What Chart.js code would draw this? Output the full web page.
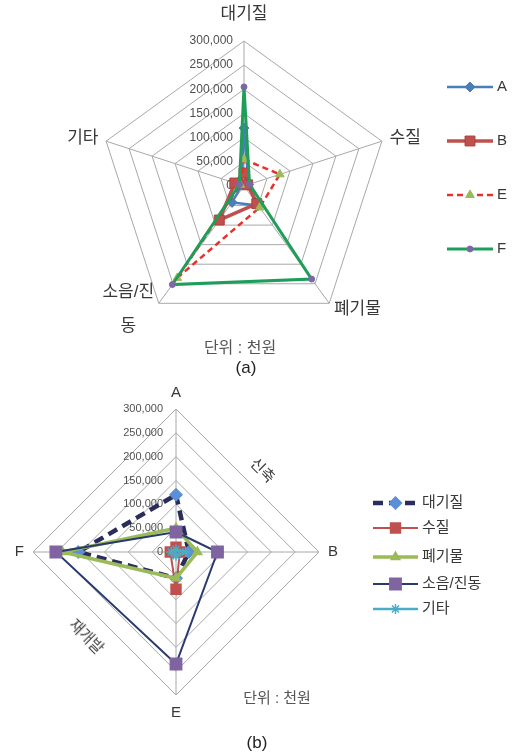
<!DOCTYPE html>
<html>
<head>
<meta charset="utf-8">
<script src="https://cdn.jsdelivr.net/npm/chart.js@4.4.0/dist/chart.umd.min.js"></script>
<style>
  body { margin:0; background:#fff; width:515px; height:752px; position:relative; overflow:hidden;
         font-family:'Liberation Sans','Noto Sans CJK KR',sans-serif; color:#404040; }
  canvas { position:absolute; left:0; }
  #chartA { top:0; }
  #chartB { top:375px; }
  .txt { position:absolute; white-space:nowrap; transform:translate(-50%,-50%); line-height:1; }
</style>
</head>
<body>
<canvas id="chartA" width="515" height="375"></canvas>
<canvas id="chartB" width="515" height="377"></canvas>

<div class="txt" style="left:240px;top:348px;font-size:16px;color:#555">단위 : 천원</div>
<div class="txt" style="left:246px;top:367px;font-size:17px;color:#222">(a)</div>
<div class="txt" style="left:263px;top:470px;font-size:15px;transform:translate(-50%,-50%) rotate(45deg)">신축</div>
<div class="txt" style="left:87px;top:636px;font-size:15px;transform:translate(-50%,-50%) rotate(45deg)">재개발</div>
<div class="txt" style="left:277px;top:697px;font-size:15px;color:#555">단위 : 천원</div>
<div class="txt" style="left:257px;top:742px;font-size:17px;color:#222">(b)</div>

<script>
// 단위: 천원
var sites = ['A', 'B', 'E', 'F'];
var impacts = ['대기질', '수질', '폐기물', '소음/진동', '기타'];

// one array per impact, values for A, B, E, F
var airQuality   = [120000, 27000, 55000, 205000];
var waterQuality = [10000, 8000, 78000, 12000];
var waste        = [50000, 45000, 55000, 238000];
var noise        = [42000, 87000, 235000, 252000];
var others       = [5000, 20000, 8000, 10000];

var axisMax = 300000;
var axisStep = 50000;

var impactValues = [airQuality, waterQuality, waste, noise, others];

var FONT = "'Liberation Sans','Noto Sans CJK KR',sans-serif";

// tick labels (left of the vertical axis) and category labels
var radarText = {
    id: 'radarText',
    beforeDatasetsDraw: function(chart, args, opts) {
        var scale = chart.scales.r;
        var ctx = chart.ctx;
        ctx.save();
        ctx.font = opts.tickSize + 'px ' + FONT;
        ctx.fillStyle = '#505050';
        ctx.textAlign = 'right';
        ctx.textBaseline = 'middle';
        scale.ticks.forEach(function(t) {
            var d = scale.getDistanceFromCenterForValue(t.value);
            ctx.fillText(t.value.toLocaleString('en-US'), scale.xCenter - opts.tickGap, scale.yCenter - d);
        });

        ctx.font = opts.labelSize + 'px ' + FONT;
        ctx.fillStyle = '#383838';
        chart.data.labels.forEach(function(label, i) {
            var gap = opts.labelGaps[i];
            var p = scale.getPointPosition(i, scale.drawingArea + gap);
            var dx = Math.cos(p.angle), dy = Math.sin(p.angle);
            var lines = Array.isArray(label) ? label : [label];
            var w = Math.max.apply(null, lines.map(function(l) { return ctx.measureText(l).width; }));
            var left;
            if (Math.abs(dx) < 0.1) left = p.x - w / 2;
            else if (dx > 0) left = p.x;
            else left = p.x - w;
            var lh = opts.lineHeight;
            var blockH = lh * (lines.length - 1);
            var yFirst;
            if (dy < -0.9) yFirst = p.y - opts.labelSize / 2 - blockH;
            else if (dy > 0.9) yFirst = p.y + opts.labelSize / 2;
            else yFirst = p.y - blockH / 2;
            ctx.textAlign = 'center';
            ctx.textBaseline = 'middle';
            lines.forEach(function(l, k) {
                ctx.fillText(l, left + w / 2, yFirst + k * lh);
            });
        });
        ctx.restore();
    }
};

// excel style legend: line piece with the marker in the middle
var sideLegend = {
    id: 'sideLegend',
    afterDraw: function(chart, args, opts) {
        var ctx = chart.ctx;
        chart.data.datasets.forEach(function(ds, i) {
            var y = opts.rows[i];
            var x0 = opts.x, x1 = opts.x + opts.len;
            ctx.save();
            ctx.strokeStyle = ds.borderColor;
            ctx.lineWidth = ds.borderWidth;
            ctx.setLineDash(ds.borderDash || []);
            ctx.beginPath();
            ctx.moveTo(x0, y);
            ctx.lineTo(x1, y);
            ctx.stroke();
            ctx.setLineDash([]);
            ctx.fillStyle = ds.pointBackgroundColor;
            ctx.strokeStyle = ds.pointBorderColor;
            ctx.lineWidth = ds.pointBorderWidth;
            Chart.helpers.drawPoint(ctx, {
                pointStyle: ds.pointStyle, rotation: 0,
                radius: ds.pointRadius, borderWidth: ds.pointBorderWidth
            }, (x0 + x1) / 2, y);
            ctx.fillStyle = '#383838';
            ctx.font = opts.size + 'px ' + FONT;
            ctx.textAlign = 'left';
            ctx.textBaseline = 'middle';
            ctx.fillText(ds.label, x1 + opts.textGap, y);
            ctx.restore();
        });
    }
};

function radarScale() {
    return {
        r: {
            min: 0,
            max: axisMax,
            ticks: { stepSize: axisStep, display: false },
            pointLabels: { display: false },
            grid: { color: '#a8a8a8', lineWidth: 1 },
            angleLines: { color: '#a8a8a8', lineWidth: 1 }
        }
    };
}

// (a) one line per site, axes are the impacts
var siteStyles = [
    { color: '#4a7ebb', width: 2.5, dash: [], style: 'rectRot', radius: 5, fill: '#4a7ebb', edge: '#4a7ebb' },
    { color: '#c0504d', width: 3.5, dash: [], style: 'rect', radius: 7, fill: '#c0504d', edge: '#a8403d' },
    { color: '#e8302c', width: 2.5, dash: [6, 4], style: 'triangle', radius: 5, fill: '#9bbb59', edge: '#9bbb59' },
    { color: '#1f9e5a', width: 3, dash: [], style: 'circle', radius: 3, fill: '#7b68a6', edge: '#7b68a6' }
];

var dataA = {
    labels: impacts.map(function(l) { return l === '소음/진동' ? ['소음/진', '동'] : l; }),
    datasets: sites.map(function(site, j) {
        var s = siteStyles[j];
        return {
            label: site,
            data: impactValues.map(function(arr) { return arr[j]; }),
            borderColor: s.color, borderWidth: s.width, borderDash: s.dash,
            pointStyle: s.style, pointRadius: s.radius,
            pointBackgroundColor: s.fill, pointBorderColor: s.edge, pointBorderWidth: 1,
            fill: false, order: sites.length - j
        };
    })
};

new Chart($('chartA'), {
    type: 'radar',
    data: dataA,
    options: {
        responsive: false,
        animation: false,
        layout: { padding: { left: 99, top: 41, right: 126, bottom: 44 } },
        elements: { line: { tension: 0 } },
        scales: radarScale(),
        plugins: {
            legend: { display: false },
            tooltip: { enabled: false },
            radarText: { tickSize: 12, tickGap: 11, labelSize: 17, lineHeight: 34, labelGaps: [18, 8, 8, 8, 8] },
            sideLegend: { x: 447, len: 46, textGap: 4, size: 15, rows: [87, 141, 195, 249] }
        }
    },
    plugins: [radarText, sideLegend]
});

// (b) one line per impact, axes are the sites
var impactStyles = [
    { color: '#2a2d5c', width: 4.5, dash: [10, 6], style: 'rectRot', radius: 6, fill: '#5b8fd6', edge: '#5b8fd6' },
    { color: '#c0504d', width: 2, dash: [], style: 'rect', radius: 7, fill: '#c0504d', edge: '#c0504d' },
    { color: '#9bbb59', width: 3.5, dash: [], style: 'triangle', radius: 5, fill: '#9bbb59', edge: '#9bbb59' },
    { color: '#283a6e', width: 2, dash: [], style: 'rect', radius: 8, fill: '#8064a2', edge: '#8064a2' },
    { color: '#4bacc6', width: 2.5, dash: [], style: 'star', radius: 5, fill: '#4bacc6', edge: '#4bacc6' }
];

var dataB = {
    labels: sites,
    datasets: impacts.map(function(name, i) {
        var s = impactStyles[i];
        return {
            label: name,
            data: impactValues[i],
            borderColor: s.color, borderWidth: s.width, borderDash: s.dash,
            pointStyle: s.style, pointRadius: s.radius,
            pointBackgroundColor: s.fill, pointBorderColor: s.edge, pointBorderWidth: 1.5,
            fill: false, order: impacts.length - i
        };
    })
};

new Chart($('chartB'), {
    type: 'radar',
    data: dataB,
    options: {
        responsive: false,
        animation: false,
        layout: { padding: { left: 33, top: 34, right: 196, bottom: 57 } },
        elements: { line: { tension: 0 } },
        scales: radarScale(),
        plugins: {
            legend: { display: false },
            tooltip: { enabled: false },
            radarText: { tickSize: 11, tickGap: 13, labelSize: 15, lineHeight: 18, labelGaps: [9, 9, 10, 9] },
            sideLegend: { x: 373, len: 45, textGap: 4, size: 15, rows: [128, 153, 182, 209, 234] }
        }
    },
    plugins: [radarText, sideLegend]
});

function $(id) { return document.getElementById(id); }
</script>
</body>
</html>
